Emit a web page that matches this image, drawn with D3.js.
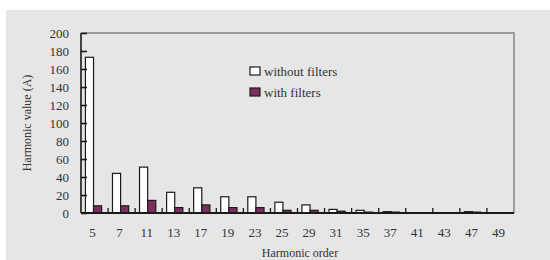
<!DOCTYPE html>
<html>
<head>
<meta charset="utf-8">
<script src="https://cdn.jsdelivr.net/npm/d3@7"></script>
<style>
  body { margin: 0; background: #fff; }
  svg text { font-family: "Liberation Serif", "DejaVu Serif", serif; fill: #333; }
</style>
</head>
<body>
<div id="chart"></div>
<script>
// harmonic orders on the x axis
var orders = ["5", "7", "11", "13", "17", "19", "23", "25", "29", "31", "35", "37", "41", "43", "47", "49"];
// harmonic current (A) without filters
var withoutFilters = [173, 44, 51, 23, 28, 18, 18, 12, 9, 4, 3, 1.5, 0, 0, 1.5, 0];
// harmonic current (A) with filters
var withFilters = [8, 8, 14, 6, 9, 6, 6, 3, 3, 2, 1, 1, 0, 0, 1, 0];
var yTicks = [0, 20, 40, 60, 80, 100, 120, 140, 160, 180, 200];
var seriesNames = ["without filters", "with filters"];

var W = 550, H = 260;
var plot = { left: 81, right: 514, top: 33, bottom: 213 };
var fills = ["#ffffff", "#7e2d60"];

var svg = d3.select("#chart").append("svg")
  .attr("width", W)
  .attr("height", H);

// grey panel behind the chart
svg.append("rect")
  .attr("x", 6).attr("y", 10)
  .attr("width", W - 6).attr("height", H - 10)
  .attr("fill", "#e6e6e6");

var x = d3.scaleBand().domain(orders).range([plot.left, plot.right]).padding(0);
var y = d3.scaleLinear().domain([0, 200]).range([plot.bottom, plot.top]);

var barW = x.bandwidth() * 0.3;
var offset = (x.bandwidth() - 2 * barW) / 2 - 1;

// top and right frame
svg.append("path")
  .attr("d", "M" + plot.left + "," + plot.top + "H" + plot.right + "V" + plot.bottom)
  .attr("fill", "none")
  .attr("stroke", "#858585")
  .attr("stroke-width", 1.5);

// bars
var series = [withoutFilters, withFilters];
series.forEach(function (vals, s) {
  svg.append("g").selectAll("rect")
    .data(vals)
    .enter()
    .append("rect")
    .attr("x", function (d, i) { return x(orders[i]) + offset + s * barW; })
    .attr("y", function (d) { return y(d); })
    .attr("width", barW)
    .attr("height", function (d) { return y(0) - y(d); })
    .attr("fill", fills[s])
    .attr("stroke", "#1a1a1a")
    .attr("stroke-width", 1.2);
});

// y axis with inward ticks
var yAxis = d3.axisRight(y).tickValues(yTicks).tickSize(6).tickFormat("");
svg.append("g")
  .attr("transform", "translate(" + plot.left + ",0)")
  .call(yAxis)
  .call(function (g) {
    g.selectAll("line, path").attr("stroke", "#1a1a1a").attr("stroke-width", 1.6);
    g.select(".domain").attr("d", "M0," + plot.top + "V" + plot.bottom);
  });

svg.append("g").selectAll("text")
  .data(yTicks)
  .enter()
  .append("text")
  .attr("x", plot.left - 12)
  .attr("y", function (d) { return y(d); })
  .attr("dy", "0.35em")
  .attr("text-anchor", "end")
  .style("font-size", "13px")
  .text(function (d) { return d; });

// x axis: ticks between categories, pointing up
var bounds = orders.slice(1).map(function (o) { return x(o); });
var xg = svg.append("g");
xg.selectAll("line")
  .data(bounds)
  .enter()
  .append("line")
  .attr("x1", function (d) { return d; })
  .attr("x2", function (d) { return d; })
  .attr("y1", plot.bottom)
  .attr("y2", plot.bottom - 5)
  .attr("stroke", "#1a1a1a")
  .attr("stroke-width", 1.3);
xg.append("line")
  .attr("x1", plot.left).attr("x2", plot.right)
  .attr("y1", plot.bottom).attr("y2", plot.bottom)
  .attr("stroke", "#1a1a1a")
  .attr("stroke-width", 1.8);

xg.selectAll("text")
  .data(orders)
  .enter()
  .append("text")
  .attr("x", function (d) { return x(d) + x.bandwidth() / 2 - 2; })
  .attr("y", 237)
  .attr("text-anchor", "middle")
  .style("font-size", "13px")
  .text(function (d) { return d; });

// axis titles
svg.append("text")
  .attr("x", 300)
  .attr("y", 257)
  .attr("text-anchor", "middle")
  .style("font-size", "12px")
  .text("Harmonic order");

svg.append("text")
  .attr("transform", "translate(31," + (plot.top + plot.bottom) / 2 + ") rotate(-90)")
  .attr("text-anchor", "middle")
  .style("font-size", "12px")
  .text("Harmonic value (A)");

// legend
var legend = svg.append("g").selectAll("g")
  .data(seriesNames)
  .enter()
  .append("g")
  .attr("transform", function (d, i) { return "translate(250," + (71 + i * 21) + ")"; });
legend.append("rect")
  .attr("x", 0).attr("y", -4)
  .attr("width", 10).attr("height", 8)
  .attr("fill", function (d, i) { return fills[i]; })
  .attr("stroke", "#1a1a1a")
  .attr("stroke-width", 1.2);
legend.append("text")
  .attr("x", 14)
  .attr("y", 0)
  .attr("dy", "0.35em")
  .style("font-size", "13px")
  .text(function (d) { return d; });
</script>
</body>
</html>
